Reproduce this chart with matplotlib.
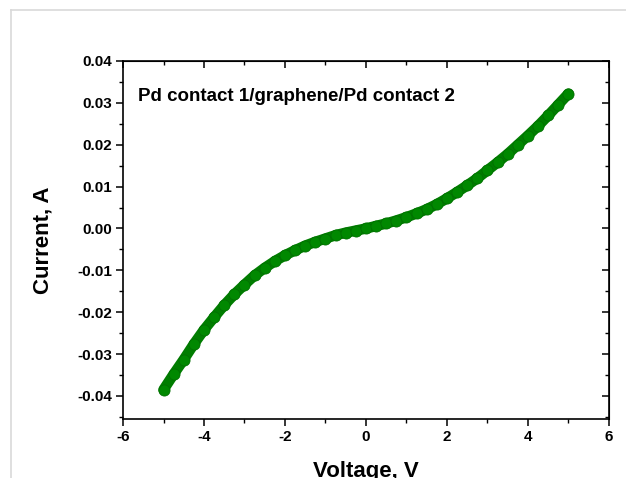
import matplotlib
matplotlib.use('Agg')
import matplotlib.pyplot as plt
from matplotlib.ticker import MultipleLocator, FormatStrFormatter
from matplotlib.lines import Line2D

plt.rcParams['font.family'] = ['Liberation Sans', 'DejaVu Sans']
plt.rcParams['font.weight'] = 'bold'
plt.rcParams['axes.unicode_minus'] = False

# Voltage (V) and current (A)
voltage = [-5.0, -4.75, -4.5, -4.25, -4.0, -3.75, -3.5, -3.25, -3.0, -2.75,
           -2.5, -2.25, -2.0, -1.75, -1.5, -1.25, -1.0, -0.75, -0.5, -0.25,
           0.0, 0.25, 0.5, 0.75, 1.0, 1.25, 1.5, 1.75, 2.0, 2.25,
           2.5, 2.75, 3.0, 3.25, 3.5, 3.75, 4.0, 4.25, 4.5, 4.75, 5.0]
current = [-0.0385, -0.0348, -0.0313, -0.0276, -0.0242, -0.0212, -0.0183, -0.0157, -0.0134, -0.0112,
           -0.0094, -0.0078, -0.0064, -0.0052, -0.0041, -0.0032, -0.0024, -0.0016, -0.0010, -0.0005,
           0.0, 0.0006, 0.0012, 0.0019, 0.0027, 0.0036, 0.0046, 0.0058, 0.0072, 0.0087,
           0.0103, 0.0120, 0.0139, 0.0158, 0.0178, 0.0200, 0.0222, 0.0245, 0.0270, 0.0296, 0.0322]

x_ticks = [-6, -4, -2, 0, 2, 4, 6]
y_ticks = [-0.04, -0.03, -0.02, -0.01, 0.00, 0.01, 0.02, 0.03, 0.04]
label_text = 'Pd contact 1/graphene/Pd contact 2'

fig = plt.figure(figsize=(6.26, 4.78), dpi=100)
ax = fig.add_axes([0.1965, 0.1234, 0.7763, 0.749])

# thick curve made of overlapping circles
ax.plot(voltage, current, color='#007d00', lw=7.6, solid_capstyle='round', zorder=2)
ax.plot(voltage, current, 'o', color='#008800', mec='#007000', mew=0.6, ms=8, zorder=3)

ax.set_xlim(-6, 6)
ax.set_ylim(-0.0455, 0.04)
ax.set_xticks(x_ticks)
ax.set_yticks(y_ticks)
ax.yaxis.set_major_formatter(FormatStrFormatter('%.2f'))
ax.xaxis.set_minor_locator(MultipleLocator(1))
ax.yaxis.set_minor_locator(MultipleLocator(0.005))
ax.tick_params(which='major', direction='out', length=5, width=1.1, labelsize=11, pad=3)
ax.tick_params(which='minor', direction='out', length=3, width=1.0)
for lab in ax.get_xticklabels() + ax.get_yticklabels():
    lab.set_fontweight('bold')
for s in ax.spines.values():
    s.set_linewidth(1.2)

# inward ticks on top and right
top = ax.secondary_xaxis('top')
top.set_xticks(x_ticks)
top.xaxis.set_minor_locator(MultipleLocator(1))
top.tick_params(which='major', direction='in', length=5, width=1.1, labeltop=False)
top.tick_params(which='minor', direction='in', length=3, width=1.0)
right = ax.secondary_yaxis('right')
right.set_yticks(y_ticks)
right.yaxis.set_minor_locator(MultipleLocator(0.005))
right.tick_params(which='major', direction='in', length=5, width=1.1, labelright=False)
right.tick_params(which='minor', direction='in', length=3, width=1.0)

ax.set_xlabel('Voltage, V', fontsize=16, fontweight='bold', labelpad=12)
ax.set_ylabel('Current, A', fontsize=16, fontweight='bold', labelpad=17)

ax.text(0.03, 0.90, label_text, transform=ax.transAxes, fontsize=13.5,
        fontweight='bold', va='center', ha='left')

# light grey frame of the screenshot
fig.add_artist(Line2D([11 / 626, 11 / 626], [0, 1 - 10 / 478], transform=fig.transFigure,
                      color='#d9d9d9', lw=1.2))
fig.add_artist(Line2D([11 / 626, 1], [1 - 10 / 478, 1 - 10 / 478], transform=fig.transFigure,
                      color='#d9d9d9', lw=1.2))

fig.savefig('out.png', dpi=100)
